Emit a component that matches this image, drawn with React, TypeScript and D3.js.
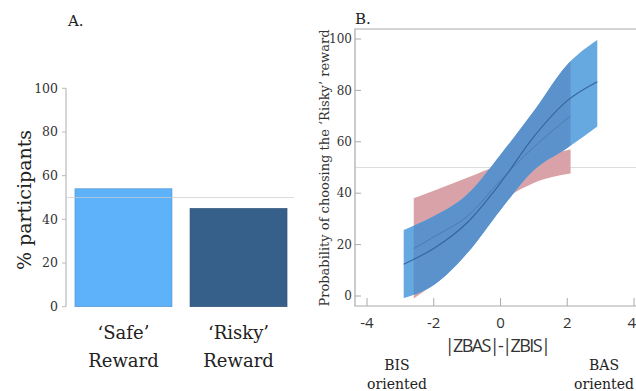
import React from 'react';
import * as d3 from 'd3';

// Panel A: share of participants per choice
const choices = ['‘Safe’', '‘Risky’'];
const choicePct = [54, 45];
const choiceColors = ['#5eb2fa', '#36608a'];
const pctTicks = [0, 20, 40, 60, 80, 100];

// Panel B: predicted probability vs |ZBAS|-|ZBIS| (two fitted models)
const redX = [-2.6, -2, -1, 0, 1, 2.1];
const redUpper = [38, 41, 46, 51, 54, 57];
const redLower = [-1, 5, 19, 36, 44, 47.7];
const redMean = [18.4, 23, 31, 45, 58, 70];

const blueX = [-2.9, -2, -1, 0, 1, 2, 2.9];
const blueUpper = [25.7, 31, 39.5, 55, 72, 90, 99.6];
const blueLower = [-0.8, 4.3, 16.6, 33.5, 49, 57.6, 66];
const blueMean = [12.4, 18.5, 28.5, 44, 62, 76, 83.4];

const probTicks = [0, 20, 40, 60, 80, 100];
const diffTicks = [-4, -2, 0, 2, 4];

const serif = '"DejaVu Serif", serif';
const sans = '"Open Sans", sans-serif';

export default function App() {
  // ---- panel A scales
  const yA = d3.scaleLinear().domain([0, 100]).range([306.7, 88.3]);
  const xA = d3.scaleBand().domain(choices).range([66, 296]).paddingInner(0.157).paddingOuter(0.078);

  // ---- panel B scales
  const xB = d3.scaleLinear().domain([-4, 4]).range([367, 634]);
  const yB = d3.scaleLinear().domain([0, 100]).range([296, 39]);
  const frameLeft = xB(-4.36);
  const frameTop = yB(103.9);
  const frameBottom = yB(-3.9);

  const band = (xs: number[], lo: number[], hi: number[]) =>
    d3.area<number>()
      .x((_, i) => xB(xs[i]))
      .y0((_, i) => yB(lo[i]))
      .y1((_, i) => yB(hi[i]))
      .curve(d3.curveMonotoneX)(xs) || '';

  const line = (xs: number[], ys: number[]) =>
    d3.line<number>()
      .x((_, i) => xB(xs[i]))
      .y((_, i) => yB(ys[i]))
      .curve(d3.curveMonotoneX)(xs) || '';

  const redL = xB(redX[0]);
  const redR = xB(redX[redX.length - 1]);

  return (
    <svg width={636} height={391} style={{ position: 'absolute', left: 0, top: 0, background: '#fff' }}>
      <defs>
        <clipPath id="overlap">
          <rect x={redL} y={0} width={redR - redL} height={391} />
        </clipPath>
      </defs>

      {/* ---------- Panel A ---------- */}
      <text x={68} y={26} fontFamily={serif} fontSize={15} fill="#222">A.</text>
      <line x1={66} x2={66} y1={yA(100)} y2={yA(0)} stroke="#bbb" strokeWidth={1.2} />
      {pctTicks.map(t => (
        <g key={t}>
          <line x1={62} x2={66} y1={yA(t)} y2={yA(t)} stroke="#bbb" />
          <text x={58} y={yA(t)} dy="0.35em" textAnchor="end" fontFamily={serif} fontSize={12.5} fill="#333">{t}</text>
        </g>
      ))}
      {choices.map((c, i) => (
        <rect key={c} x={xA(c)} y={yA(choicePct[i])} width={xA.bandwidth()} height={yA(0) - yA(choicePct[i])}
          fill={choiceColors[i]} stroke={d3.color(choiceColors[i])!.darker(0.6).toString()} strokeWidth={0.6} />
      ))}
      <line x1={66} x2={294} y1={yA(50)} y2={yA(50)} stroke="#ccc" strokeOpacity={0.7} strokeWidth={1} />
      {choices.map(c => (
        <text key={c} textAnchor="middle" fontFamily={serif} fontSize={18} fill="#222">
          <tspan x={xA(c)! + xA.bandwidth() / 2} y={339}>{c}</tspan>
          <tspan x={xA(c)! + xA.bandwidth() / 2} y={367}>Reward</tspan>
        </text>
      ))}
      <text transform={`translate(31,200) rotate(-90)`} textAnchor="middle" fontFamily={serif} fontSize={19} fill="#222">
        % participants
      </text>

      {/* ---------- Panel B ---------- */}
      <text x={355} y={24} fontFamily={serif} fontSize={15} fill="#222">B.</text>
      <line x1={frameLeft} x2={636} y1={yB(50)} y2={yB(50)} stroke="#ddd" strokeWidth={1} />
      <path d={band(redX, redLower, redUpper)} fill="#d9a2a8" />
      <path d={band(blueX, blueLower, blueUpper)} fill="#66a8e0" />
      <path d={band(blueX, blueLower, blueUpper)} fill="#5b92cc" clipPath="url(#overlap)" />
      <path d={line(redX, redMean)} fill="none" stroke="#4a7cb0" strokeWidth={1} />
      <path d={line(blueX, blueMean)} fill="none" stroke="#35659a" strokeWidth={1.1} />

      <path d={`M636,${frameTop}H${frameLeft}V${frameBottom}H636`} fill="none" stroke="#aaa" strokeWidth={1.2} />
      {probTicks.map(t => (
        <g key={t}>
          <line x1={frameLeft} x2={frameLeft + 6} y1={yB(t)} y2={yB(t)} stroke="#aaa" />
          <text x={352} y={yB(t)} dy="0.35em" textAnchor="end" fontFamily={serif} fontSize={12} fill="#333">{t}</text>
        </g>
      ))}
      {diffTicks.map(t => (
        <g key={t}>
          <line x1={xB(t)} x2={xB(t)} y1={frameBottom} y2={frameBottom - 8} stroke="#aaa" />
          <text x={t === 4 ? 636 : xB(t)} y={328} textAnchor={t === 4 ? 'end' : 'middle'} fontFamily={sans} fontSize={15} fill="#333">{t}</text>
        </g>
      ))}
      <text x={497} y={352} textAnchor="middle" fontFamily={sans} fontSize={18} fill="#333" letterSpacing={-1.6}>|ZBAS|-|ZBIS|</text>
      <text transform={`translate(329,168) rotate(-90)`} textAnchor="middle" fontFamily={serif} fontSize={13} fill="#333">
        Probability of choosing the ‘Risky’ reward
      </text>
      <text textAnchor="middle" fontFamily={serif} fontSize={14} fill="#222">
        <tspan x={397} y={370}>BIS</tspan>
        <tspan x={397} y={389}>oriented</tspan>
      </text>
      <text textAnchor="middle" fontFamily={serif} fontSize={14} fill="#222">
        <tspan x={604} y={370}>BAS</tspan>
        <tspan x={604} y={389}>oriented</tspan>
      </text>
    </svg>
  );
}
